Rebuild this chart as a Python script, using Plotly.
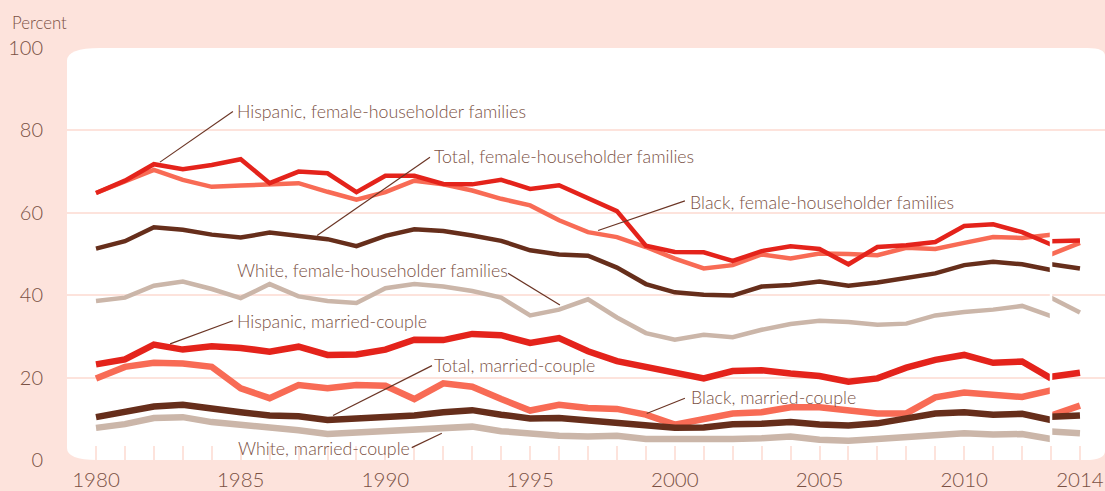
import plotly.graph_objects as go

years = list(range(1980, 2014))
years_new = [2013, 2014]

hisp_fem = [64.8, 67.8, 71.8, 70.6, 71.6, 73.0, 67.2, 70.0, 69.6, 65.0,
            69.0, 69.0, 67.0, 66.9, 68.0, 65.8, 66.7, 63.4, 60.4, 52.0,
            50.5, 50.4, 48.3, 50.7, 51.9, 51.2, 47.5, 51.7, 52.1, 52.9,
            56.8, 57.2, 55.3, 52.3]
hisp_fem_new = [53.1, 53.3]

black_fem = [64.8, 67.6, 70.4, 68.0, 66.3, 66.6, 67.0, 67.2, 65.1, 63.2,
             65.0, 67.8, 66.9, 65.4, 63.4, 61.8, 58.2, 55.3, 54.1, 51.7,
             48.9, 46.5, 47.3, 49.9, 48.9, 50.1, 50.0, 49.7, 51.5, 51.2,
             52.7, 54.1, 53.9, 54.7]
black_fem_new = [49.9, 52.7]

total_fem = [51.3, 53.1, 56.5, 55.9, 54.7, 54.0, 55.2, 54.4, 53.6, 51.9,
             54.4, 56.0, 55.6, 54.5, 53.2, 50.9, 49.9, 49.6, 46.7, 42.7,
             40.7, 40.1, 39.9, 42.1, 42.5, 43.3, 42.3, 43.1, 44.1, 45.3,
             47.3, 48.1, 47.5, 46.1]
total_fem_new = [47.5, 46.5]

white_fem = [38.6, 39.4, 42.3, 43.3, 41.5, 39.3, 42.7, 39.7, 38.6, 38.1,
             41.7, 42.7, 42.1, 41.0, 39.4, 35.1, 36.5, 39.0, 34.6, 30.8,
             29.2, 30.4, 29.8, 31.6, 33.0, 33.8, 33.5, 32.8, 33.1, 35.1,
             35.9, 36.5, 37.4, 34.9]
white_fem_new = [39.4, 35.8]

hisp_mar = [23.2, 24.4, 28.0, 26.8, 27.6, 27.2, 26.3, 27.5, 25.5, 25.6,
            26.8, 29.2, 29.1, 30.6, 30.3, 28.4, 29.6, 26.4, 24.0, 22.6,
            21.2, 19.8, 21.6, 21.8, 21.0, 20.4, 19.0, 19.8, 22.4, 24.3,
            25.5, 23.6, 23.9, 19.8]
hisp_mar_new = [20.2, 21.2]

black_mar = [19.8, 22.6, 23.6, 23.4, 22.6, 17.4, 15.0, 18.2, 17.4, 18.2,
             18.0, 14.8, 18.6, 17.8, 14.8, 12.0, 13.4, 12.6, 12.4, 11.0,
             8.6, 10.0, 11.3, 11.6, 12.8, 12.8, 12.1, 11.3, 11.3, 15.2,
             16.4, 16.0, 15.3, 16.9]
black_mar_new = [10.8, 13.2]

total_mar = [10.4, 11.8, 13.0, 13.4, 12.4, 11.6, 10.8, 10.6, 9.7, 10.0,
             10.4, 10.8, 11.6, 12.1, 11.0, 10.1, 10.2, 9.6, 9.2, 8.6,
             7.8, 7.9, 8.7, 8.8, 9.2, 8.6, 8.4, 8.9, 10.2, 11.3,
             11.6, 11.0, 11.2, 9.7]
total_mar_new = [10.5, 10.8]

white_mar = [7.8, 8.7, 10.2, 10.4, 9.2, 8.6, 8.1, 7.2, 6.3, 6.7,
             6.9, 7.3, 7.7, 8.1, 7.0, 6.3, 5.9, 5.7, 5.9, 5.1,
             5.0, 5.0, 5.1, 5.3, 5.7, 4.9, 4.7, 5.1, 5.5, 6.2,
             6.5, 6.2, 6.3, 5.1]
white_mar_new = [6.9, 6.5]

x_tick_vals = [1980, 1985, 1990, 1995, 2000, 2005, 2010, 2014]
x_tick_text = ["1980", "1985", "1990", "1995", "2000", "2005", "2010", "2014"]
y_tick_vals = [0, 20, 40, 60, 80, 100]
y_tick_text = ["0", "20", "40", "60", "80", "100"]

labels = [
    "Hispanic, female-householder families",
    "Total, female-householder families",
    "Black, female-householder families",
    "White, female-householder families",
    "Hispanic, married-couple",
    "Total, married-couple",
    "Black, married-couple",
    "White, married-couple",
]

RED = "#e4231b"
CORAL = "#f86b55"
BROWN = "#662e1b"
TAUPE = "#cbb6a9"
PINK = "#fde3dc"
TEXT = "#7a5144"
LEADER = "#6b3525"
FONT = "Lato"
WEIGHT = 300

fig = go.Figure()

series = [
    (white_fem, white_fem_new, TAUPE, 4.5),
    (black_fem, black_fem_new, CORAL, 4.5),
    (total_fem, total_fem_new, BROWN, 4.5),
    (hisp_fem, hisp_fem_new, RED, 4.5),
    (white_mar, white_mar_new, TAUPE, 6.5),
    (black_mar, black_mar_new, CORAL, 6.5),
    (total_mar, total_mar_new, BROWN, 6.5),
    (hisp_mar, hisp_mar_new, RED, 6.5),
]
for old, new, col, w in series:
    fig.add_trace(go.Scatter(x=years, y=old, mode="lines",
                             line=dict(color=col, width=w), hoverinfo="skip"))
    fig.add_trace(go.Scatter(x=years_new, y=new, mode="lines",
                             line=dict(color=col, width=w), hoverinfo="skip"))

# rounded white plotting panel (paper coords of the plot area)
panel = ("M 0.032,1 L 0.983,1 Q 1,1 1,0.981 L 1,0.022 Q 1,0 0.981,0 "
         "L 0.029,0 Q 0,0 0,0.029 L 0,0.969 Q 0,1 0.032,1 Z")
shapes = [dict(type="path", path=panel, xref="paper", yref="paper",
               fillcolor="white", line=dict(width=0), layer="below")]

# white separator at the 2013 redesign break
shapes.append(dict(type="line", x0=2013, x1=2013, y0=3.6, y1=58,
                   xref="x", yref="y", line=dict(color="white", width=2.5),
                   layer="above"))

leaders = [
    (1982.21, 72.3, 1984.73, 84.6),
    (1987.64, 54.5, 1991.54, 73.5),
    (1997.35, 55.7, 2000.35, 62.9),
    (1994.24, 45.3, 1996.03, 37.6),
    (1982.56, 28.2, 1984.73, 33.8),
    (1988.19, 10.8, 1991.61, 22.9),
    (1999.03, 11.3, 2000.35, 15.0),
    (1990.91, 3.0, 1991.95, 6.5),
]
for x0, y0, x1, y1 in leaders:
    shapes.append(dict(type="line", x0=x0, y0=y0, x1=x1, y1=y1, xref="x",
                       yref="y", line=dict(color=LEADER, width=1.2),
                       layer="above"))

label_pos = [
    (1984.80, 84.6, "left"),
    (1991.62, 73.7, "left"),
    (2000.46, 62.7, "left"),
    (1984.80, 46.0, "left"),
    (1984.80, 33.7, "left"),
    (1991.62, 23.1, "left"),
    (2000.50, 15.2, "left"),
    (1984.84, 2.9, "left"),
]
annotations = []
for (x, y, anc), txt in zip(label_pos, labels):
    annotations.append(dict(x=x, y=y, xref="x", yref="y", text=txt,
                            showarrow=False, xanchor=anc, yanchor="middle",
                            font=dict(family=FONT, size=17.8, color=TEXT,
                                      weight=WEIGHT)))
annotations.append(dict(x=-0.055, y=1.0627, xref="paper", yref="paper",
                        text="Percent", showarrow=False, xanchor="left",
                        yanchor="middle",
                        font=dict(family=FONT, size=16.8, color=TEXT,
                                  weight=WEIGHT)))

fig.update_layout(
    width=1105, height=491,
    margin=dict(l=67, r=0, t=48, b=28),
    paper_bgcolor=PINK, plot_bgcolor=PINK,
    showlegend=False,
    shapes=shapes, annotations=annotations,
    font=dict(family=FONT, color=TEXT, size=18, weight=WEIGHT),
    xaxis=dict(range=[1978.998, 2014.865], showgrid=False, zeroline=False,
               showline=False, tickmode="array", tickvals=x_tick_vals,
               ticktext=x_tick_text, ticks="inside", ticklen=14,
               tickwidth=2, tickcolor=PINK, ticklabelstandoff=5,
               tickfont=dict(family=FONT, size=20.5, color=TEXT,
                             weight=WEIGHT),
               minor=dict(tickmode="array", tickvals=years + [2014],
                          ticks="inside", ticklen=14, tickwidth=2,
                          tickcolor=PINK, showgrid=False),
               fixedrange=True),
    yaxis=dict(range=[0, 100], showgrid=True, gridcolor=PINK, gridwidth=2,
               zeroline=False, showline=False, tickmode="array",
               tickvals=y_tick_vals, ticktext=y_tick_text, ticks="outside",
               ticklen=19, tickcolor="rgba(0,0,0,0)",
               tickfont=dict(family=FONT, size=20, color=TEXT,
                             weight=WEIGHT),
               fixedrange=True),
)

fig.write_html("out.html",
               config={"displayModeBar": False},
               post_script="document.body.style.margin='0';"
                           "document.body.style.overflow='hidden';")
